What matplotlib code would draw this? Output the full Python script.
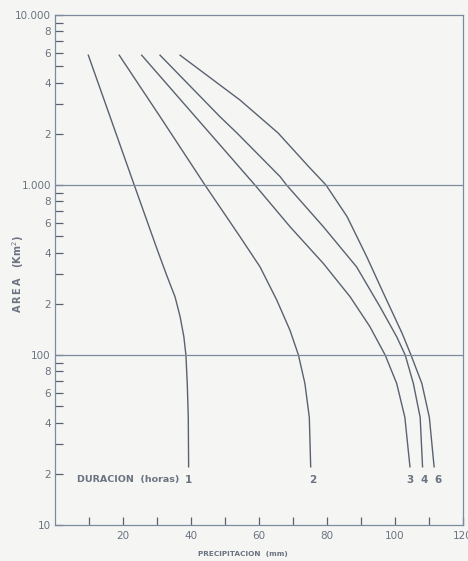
import matplotlib
matplotlib.use("Agg")
from matplotlib import pyplot as plt
from matplotlib.ticker import FixedLocator

matplotlib.rc("font", family="DejaVu Sans")

# curvas area-precipitacion (precipitacion mm, area km2)
prec_1 = [9.8, 23.3, 30.1, 33.0, 35.3, 36.8, 37.9, 38.5, 38.9, 39.2, 39.3]
area_1 = [5800, 1000, 415, 289, 220, 168, 128, 100, 68, 43, 22]

prec_2 = [18.9, 30.9, 44.1, 54.4, 60.3, 65.2, 69.1, 71.6, 73.5, 74.8, 75.2]
area_2 = [5800, 2524, 1000, 497, 330, 211, 140, 100, 68, 43, 22]

prec_3 = [25.5, 54.1, 58.8, 69.1, 78.9, 86.8, 92.6, 97.1, 100.5, 102.9, 104.4]
area_3 = [5800, 1282, 1000, 569, 346, 220, 147, 100, 68, 43, 22]

prec_4 = [30.9, 48.5, 53.5, 66.2, 68.1, 78.9, 88.7, 95.6, 100.5, 103.0, 105.4, 107.4, 108.1]
area_4 = [5800, 2524, 2024, 1120, 1000, 569, 330, 192, 128, 100, 68, 43, 22]

prec_6 = [36.8, 54.4, 65.6, 74.7, 79.7, 85.9, 91.7, 96.6, 102.1, 104.7, 107.9, 110.1, 111.5]
area_6 = [5800, 3162, 2024, 1277, 1000, 652, 378, 231, 134, 100, 68, 43, 22]

curvas = [(prec_1, area_1), (prec_2, area_2), (prec_3, area_3),
          (prec_4, area_4), (prec_6, area_6)]
duraciones = ["1", "2", "3", "4", "6"]
pos_etiqueta = [39.3, 75.9, 104.4, 108.6, 112.6]

x_ticks = [10, 20, 30, 40, 50, 60, 70, 80, 90, 100, 110, 120]
x_labels = {20: "20", 40: "40", 60: "60", 80: "80", 100: "100", 120: "120"}

line_col = "#59626e"
text_col = "#6a7380"
bg = "#f5f5f4"

fig = plt.figure(figsize=(4.68, 5.61), dpi=100, facecolor=bg)
ax = fig.add_axes([55 / 468, 36 / 561, 408 / 468, 510 / 561], facecolor=bg)

for (p, a) in curvas:
    ax.plot(p, a, color=line_col, lw=1.0, solid_joinstyle="round")

# lineas horizontales en 100 y 1000
for yv in [100, 1000]:
    ax.axhline(yv, color="#7d8c9c", lw=0.9)

ax.set_yscale("log")
ax.set_xlim(0, 120)
ax.set_ylim(10, 10000)

# ticks eje y
y_major = [10, 100, 1000, 10000]
y_minor = []
y_minor_labels = []
for dec in [10, 100, 1000]:
    for m in range(2, 10):
        y_minor.append(dec * m)
        y_minor_labels.append(str(m) if m % 2 == 0 else "")
ax.yaxis.set_major_locator(FixedLocator(y_major))
ax.set_yticklabels(["10", "100", "1.000", "10.000"])
ax.set_yticks(y_minor, minor=True)
ax.set_yticklabels(y_minor_labels, minor=True)

ax.set_xticks(x_ticks)
ax.set_xticklabels([x_labels.get(t, "") for t in x_ticks])

ax.tick_params(axis="both", which="both", direction="in", length=6,
               width=0.9, color=line_col, labelcolor=text_col,
               labelsize=7.5, pad=3)
ax.tick_params(axis="x", top=False, pad=4)
ax.tick_params(axis="y", right=False, pad=3)

for s in ax.spines.values():
    s.set_color("#7d8c9c")
    s.set_linewidth(0.9)

# etiquetas de duracion
ax.text(6.6, 18.4, "DURACION  (horas)", color=text_col, fontsize=6.8,
        fontweight="bold", va="center", ha="left")
for d, xp in zip(duraciones, pos_etiqueta):
    ax.text(xp, 18.4, d, color=text_col, fontsize=7.5, fontweight="bold",
            va="center", ha="center")

fig.text(243 / 468, 1 - 554 / 561, "PRECIPITACION  (mm)",
         color=text_col, fontsize=5.3, fontweight="bold", ha="center",
         va="center")
fig.text(18 / 468, 1 - 274 / 561, "\u2009".join("AREA") + "   (Km$^2$)",
         color=text_col, fontsize=7, fontweight="bold", ha="center",
         va="center", rotation=90)

fig.savefig("out.png", dpi=100, facecolor=bg)
